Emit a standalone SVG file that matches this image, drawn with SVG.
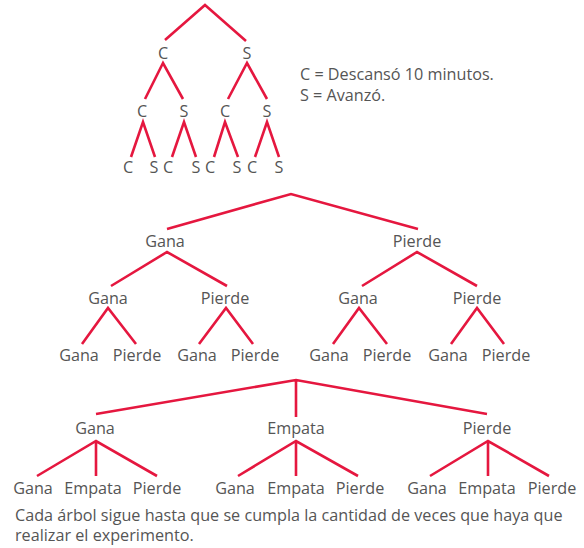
<svg xmlns="http://www.w3.org/2000/svg" width="584" height="548" viewBox="0 0 584 548">
<style>
text{font-family:"Open Sans","Noto Sans","Liberation Sans",sans-serif;font-size:16.2px;fill:#555}
.m{text-anchor:middle}
.e{stroke:#e5173f;stroke-width:2.6;fill:none;stroke-linecap:butt}
</style>
<rect width="584" height="548" fill="#fff"/>
<g id="connectors">
<path class="e" d="M165,40 L205,5 L246,41"/>
<path class="e" d="M145,99 L163,63 L183,99 M228,99 L247,63 L267,99"/>
<path class="e" d="M131,157 L143,122 L155,157 M172,157 L184,122 L196,157 M214,157 L225,122 L238,157 M255,157 L267,122 L279,157"/>
<path class="e" d="M167,229 L291,194 L418,229"/>
<path class="e" d="M111,286 L167,252 L227,286 M362,286 L417,252 L477,286"/>
<path class="e" d="M82,344 L108,308 L136,344 M199,344 L226,308 L253,344 M333,344 L359,308 L387,344 M451,344 L477,308 L504,344"/>
<path class="e" d="M96,414 L296,380 L487,414 M296,380 L296,417"/>
<path class="e" d="M37,476 L96,441 L157,476 M96,441 L96,476 M238,476 L296,441 L358,476 M296,441 L296,476 M430,476 L488,441 L549,476 M488,441 L488,476"/>
</g>
<g id="t1-root"/>
<g id="t1-c"><text class="m" x="163" y="59">C</text></g>
<g id="t1-s"><text class="m" x="247" y="59">S</text></g>
<g id="t1-cc"><text class="m" x="142" y="117">C</text></g>
<g id="t1-cs"><text class="m" x="184" y="117">S</text></g>
<g id="t1-sc"><text class="m" x="225" y="117">C</text></g>
<g id="t1-ss"><text class="m" x="267" y="117">S</text></g>
<g id="t1-leaves">
<text class="m" x="128" y="173">C</text><text class="m" x="154" y="173">S</text>
<text class="m" x="168" y="173">C</text><text class="m" x="196" y="173">S</text>
<text class="m" x="210" y="173">C</text><text class="m" x="237" y="173">S</text>
<text class="m" x="252" y="173">C</text><text class="m" x="279" y="173">S</text>
</g>
<g id="legend">
<text x="300" y="80">C = Descansó 10 minutos.</text>
<text x="300" y="101">S = Avanzó.</text>
</g>
<g id="t2-root"/>
<g id="t2-g"><text class="m" x="165" y="247">Gana</text></g>
<g id="t2-p"><text class="m" x="417" y="247">Pierde</text></g>
<g id="t2-gg"><text class="m" x="108" y="304">Gana</text></g>
<g id="t2-gp"><text class="m" x="225" y="304">Pierde</text></g>
<g id="t2-pg"><text class="m" x="358" y="304">Gana</text></g>
<g id="t2-pp"><text class="m" x="477" y="304">Pierde</text></g>
<g id="t2-leaves">
<text class="m" x="79" y="361">Gana</text><text class="m" x="137" y="361">Pierde</text>
<text class="m" x="197" y="361">Gana</text><text class="m" x="255" y="361">Pierde</text>
<text class="m" x="329" y="361">Gana</text><text class="m" x="387" y="361">Pierde</text>
<text class="m" x="448" y="361">Gana</text><text class="m" x="506" y="361">Pierde</text>
</g>
<g id="t3-root"/>
<g id="t3-g"><text class="m" x="95" y="434">Gana</text></g>
<g id="t3-e"><text class="m" x="296" y="434">Empata</text></g>
<g id="t3-p"><text class="m" x="487" y="434">Pierde</text></g>
<g id="t3-leaves">
<text class="m" x="33" y="494">Gana</text><text class="m" x="93" y="494">Empata</text><text class="m" x="157" y="494">Pierde</text>
<text class="m" x="235" y="494">Gana</text><text class="m" x="296" y="494">Empata</text><text class="m" x="360" y="494">Pierde</text>
<text class="m" x="427" y="494">Gana</text><text class="m" x="487" y="494">Empata</text><text class="m" x="552" y="494">Pierde</text>
</g>
<g id="caption">
<text x="15" y="521">Cada árbol sigue hasta que se cumpla la cantidad de veces que haya que</text>
<text x="15" y="541">realizar el experimento.</text>
</g>
</svg>
